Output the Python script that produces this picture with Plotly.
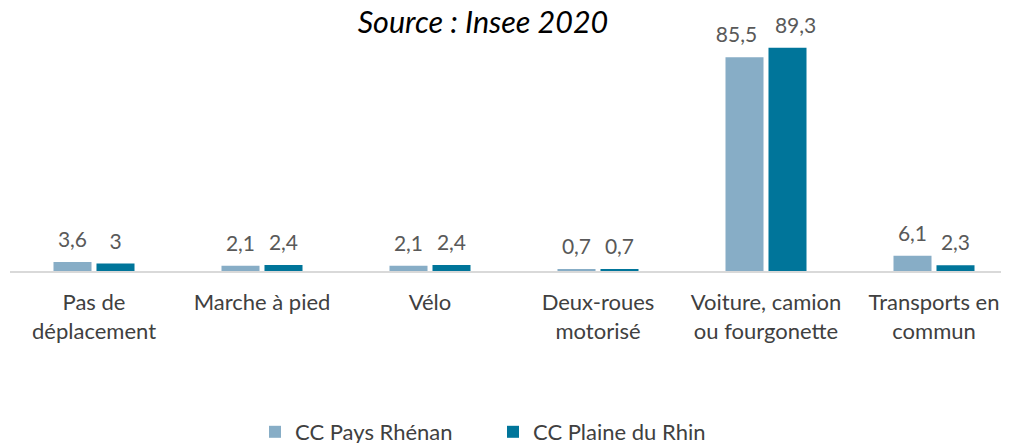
import plotly.graph_objects as go

categories = ["Pas de<br>déplacement", "Marche à pied", "Vélo", "Deux-roues<br>motorisé",
              "Voiture, camion<br>ou fourgonette", "Transports en<br>commun"]
pays_rhenan = [3.6, 2.1, 2.1, 0.7, 85.5, 6.1]
plaine_rhin = [3.0, 2.4, 2.4, 0.7, 89.3, 2.3]
series_names = ["CC Pays Rhénan", "CC Plaine du Rhin"]
colors = ["#87ADC6", "#00759A"]

FONT = "Lato, sans-serif"
W, H = 1001, 435
NB = "\u00a0"

def fmt(v):
    return ("%g" % v).replace(".", ",")

def labels(vals, other, side):
    out = []
    for v, o in zip(vals, other):
        s = fmt(v)
        # wide neighbouring labels are pushed apart, as in the reference
        if v >= 10 and o >= 10:
            s = s + NB * 3 if side == 0 else NB * 3 + s
        out.append(s)
    return out

xs = list(range(len(categories)))
fig = go.Figure()
for k, (name, vals, col) in enumerate(zip(series_names, [pays_rhenan, plaine_rhin], colors)):
    fig.add_trace(go.Bar(
        x=xs, y=vals, name=name, offsetgroup=str(k),
        marker=dict(color=col, line=dict(width=0)),
        hoverinfo="skip",
    ))
series = [pays_rhenan, plaine_rhin]
for k, vals in enumerate(series):
    fig.add_trace(go.Scatter(
        x=xs, y=vals, mode="markers+text", offsetgroup=str(k),
        marker=dict(size=14, color="rgba(0,0,0,0)"),
        text=labels(vals, series[1 - k], k), textposition="top center",
        textfont=dict(family=FONT, size=21, color="#595959"),
        showlegend=False, hoverinfo="skip", cliponaxis=False,
    ))

fig.update_layout(
    width=W, height=H,
    margin=dict(l=2, r=0, t=13, b=172, autoexpand=False),
    plot_bgcolor="white", paper_bgcolor="white",
    barmode="group", bargap=0.488, bargroupgap=0.116,
    scattermode="group", scattergap=0.488,
    title=dict(text="<i>Source : Insee 2020</i>", x=475 / W, xanchor="center",
               y=1 - 14 / H, yanchor="middle", yref="container",
               font=dict(family=FONT, size=30.5, color="#000000")),
    xaxis=dict(tickmode="array", tickvals=xs, ticktext=categories,
               range=[-0.5, -0.5 + 999 / 168], showgrid=False, zeroline=False,
               showline=True, linecolor="#D9D9D9", linewidth=1.5, ticks="",
               ticklabelstandoff=11,
               tickfont=dict(family=FONT, size=22, color="#404040")),
    yaxis=dict(range=[0, 100], visible=False, showgrid=False, zeroline=False),
    legend=dict(orientation="h", x=247 / W, xanchor="left", xref="container",
                y=-0.644, yanchor="middle", yref="paper", traceorder="normal",
                font=dict(family=FONT, size=22, color="#404040"),
                itemwidth=30, entrywidth=193),
    showlegend=True,
)
fig.write_html("out.html")
